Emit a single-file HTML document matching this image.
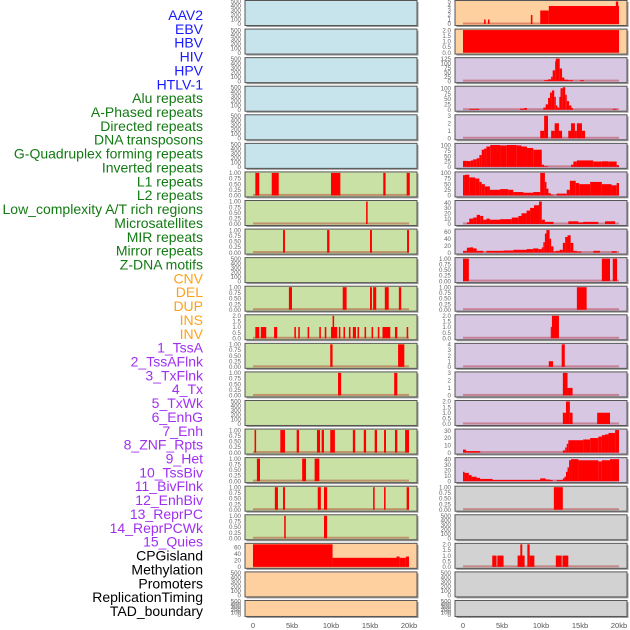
<!DOCTYPE html>
<html><head><meta charset="utf-8">
<style>
html,body{margin:0;padding:0;background:#fff;}
svg{display:block;font-family:"Liberation Sans",sans-serif;}
</style></head>
<body>
<svg id="chart" width="630" height="630" viewBox="0 0 630 630" xmlns="http://www.w3.org/2000/svg">
<g id="labels"></g>
<g id="panels"></g>
<g id="xaxes"></g>
</svg>
<script>
// ---- data ----
const trackLabels = ["AAV2","EBV","HBV","HIV","HPV","HTLV-1","Alu repeats","A-Phased repeats","Directed repeats","DNA transposons","G-Quadruplex forming repeats","Inverted repeats","L1 repeats","L2 repeats","Low_complexity A/T rich regions","Microsatellites","MIR repeats","Mirror repeats","Z-DNA motifs","CNV","DEL","DUP","INS","INV","1_TssA","2_TssAFlnk","3_TxFlnk","4_Tx","5_TxWk","6_EnhG","7_Enh","8_ZNF_Rpts","9_Het","10_TssBiv","11_BivFlnk","12_EnhBiv","13_ReprPC","14_ReprPCWk","15_Quies","CPGisland","Methylation","Promoters","ReplicationTiming","TAD_boundary"];
const labelGroups = [6,13,5,15,5]; // counts per color group
const xTickValues = [0,5,10,15,20];
const xTickLabels = ["0","5kb","10kb","15kb","20kb"];

// segments: [startKb, endKb, value]
const L6 = [[0.3,0.8,1],[2.4,3.3,1],[10,11.2,1],[16.7,17,1],[19.7,20.1,1]];
const L7 = [[14.5,14.7,1]];
const L8 = [[3.85,4.1,1],[9.5,9.8,1],[15,15.25,1],[19.75,20,1]];
const L10 = [[4.6,5,1],[11.5,12,1],[15,15.25,1],[15.4,15.8,1],[16.9,17.4,1],[18.7,19,1]];
const L11 = [[0.3,0.8,1],[1.0,1.7,1],[2.7,3.1,1],[5.3,5.5,1],[5.8,6.0,1],[7.0,7.2,1],[8.5,8.7,1],[9.2,9.4,1],[10.0,10.8,1],[10.2,10.4,2],[11.0,11.2,1],[11.6,11.8,1],[12.3,12.5,1],[12.8,13.2,1],[13.4,13.6,1],[14.3,14.5,1],[15.2,15.4,1],[16.0,16.2,1],[16.6,17.6,1],[18.2,18.5,1],[19.7,19.9,1]];
const L12 = [[9.9,10.2,1],[18.6,19.4,1]];
const L13 = [[10.9,11.3,1],[18.1,18.5,1]];
const L15 = [[0.2,0.4,1],[3.5,4.1,1],[5.6,5.9,1],[8.2,8.6,1],[8.8,9.1,1],[9.9,10.5,1],[12.8,13.1,1],[14.2,14.5,1],[15.6,15.9,1],[16.8,17.05,1],[18.2,18.5,1],[19.5,20,1]];
const L16 = [[0.5,0.9,1],[6.3,6.8,1],[7.9,8.5,1]];
const L17 = [[2.8,3.2,1],[3.85,4.1,1],[8.3,8.7,1],[9.1,9.5,1],[15.4,15.6,1],[16.8,17,1],[19.7,20,1]];
const L18 = [[4,4.2,1],[9.1,9.5,1]];
const L19 = [[0,10.2,70],[10.2,18.4,28],[18.4,18.8,32],[18.8,19.6,28],[19.6,20,32]];

const R0 = [[2.7,2.9,1],[3.2,3.4,1],[8.7,8.9,2],[9.9,11,3],[11,20,4],[19.6,19.9,5]];
const R1 = [[0,20,2]];
const R2 = [[10.4,10.9,5],[10.9,11.3,10],[11.3,11.5,25],[11.5,11.8,60],[11.8,11.9,110],[11.9,12.4,125],[12.4,12.7,70],[12.7,13,20],[13,13.5,8],[13.5,14.1,5],[15,15.5,5]];
const R3 = [[0.8,2.05,4],[7.3,7.85,5],[7.85,8.2,8],[10.3,10.6,10],[10.6,10.9,25],[10.9,11.15,55],[11.15,11.4,80],[11.4,11.7,90],[11.7,11.9,60],[11.9,12.1,20],[12.1,12.35,10],[12.35,12.5,60],[12.5,12.8,100],[12.8,13.1,105],[13.1,13.3,70],[13.3,13.6,40],[13.6,13.9,20],[13.9,14.1,8],[19.2,19.7,4]];
const R4 = [[9.9,10.4,1],[10.4,10.9,3],[11.3,11.75,1],[11.75,12.3,2],[12.3,12.7,1],[13.5,13.85,1],[13.85,14.35,2],[14.35,14.6,1],[14.6,15.25,2],[15.25,15.65,1]];
const R5 = [[0,0.5,28],[0.5,1,27],[1,1.3,30],[1.3,1.75,35],[1.75,2.1,40],[2.1,2.4,55],[2.4,2.7,80],[2.7,3,85],[3,3.5,95],[3.5,4.75,102],[4.75,5.6,100],[5.6,6.9,102],[6.9,7.5,100],[7.5,8.2,95],[8.2,9,88],[9,10.1,80],[10.1,10.4,10],[10.4,10.9,3],[13.85,14.15,10],[14.15,14.6,25],[14.6,16.7,30],[16.7,17.8,25],[17.8,18.6,26],[18.6,19.7,25],[19.7,20,8]];
const R6 = [[0,0.25,90],[0.25,0.8,92],[0.8,1.55,80],[1.55,2.1,75],[2.1,2.4,60],[2.4,2.8,50],[2.8,3.45,40],[3.45,4.75,25],[4.75,5.8,28],[5.8,6.45,25],[6.45,7.75,15],[7.75,9,12],[9,9.9,15],[9.9,10.5,100],[10.5,10.7,60],[10.7,10.95,30],[10.95,11.25,10],[11.25,11.6,3],[12,13.3,8],[13.3,13.7,25],[13.7,14.45,65],[14.45,14.9,55],[14.9,16.3,50],[16.3,17.8,60],[17.8,19.05,50],[19.05,19.7,45],[19.7,20,55]];
const R7 = [[0.5,0.8,3],[0.8,1.3,10],[1.3,1.75,12],[1.75,2.2,17],[2.2,2.6,15],[2.6,3,8],[3,3.45,10],[3.45,4.75,8],[4.75,6.25,9],[6.25,7.1,12],[7.1,7.5,15],[7.5,8.15,20],[8.15,8.6,25],[8.6,9.1,30],[9.1,9.75,35],[9.75,10.1,42],[10.1,10.5,8],[10.5,11.6,4],[13.5,14.8,5],[14.8,15.4,3],[15.4,17.35,4],[18.2,19.5,5]];
const R8 = [[0,0.5,5],[0.5,0.9,14],[0.9,1.3,15],[1.3,1.75,12],[1.75,2.6,5],[3,5.2,5],[5.2,6.45,6],[6.45,8.15,8],[8.15,9,10],[9,9.65,12],[9.65,10.1,10],[10.1,10.3,15],[10.3,10.5,30],[10.5,10.7,55],[10.7,11.1,65],[11.1,11.3,40],[11.3,11.6,18],[11.6,11.9,3],[11.9,12.4,5],[12.4,12.8,8],[12.8,13.1,28],[13.1,13.4,45],[13.4,13.8,50],[13.8,14.15,28],[14.15,14.6,5],[14.6,15.2,3],[16.7,17.55,5],[19.05,19.7,4]];
const R9 = [[0,0.75,1],[17.8,18.85,1],[19.2,19.75,1]];
const R10 = [[14.6,15.85,1]];
const R11 = [[11.25,11.4,1],[11.4,12.3,2]];
const R12 = [[11,11.55,1],[12.65,13.05,4]];
const R13 = [[12.8,13.4,3],[13.4,14.05,1]];
const R14 = [[12.8,13.2,1],[13.2,13.7,2],[13.7,14.05,1],[17.2,18.85,1]];
const R15 = [[0,0.4,4],[0.4,2.2,2],[12.8,13.1,3],[13.1,13.3,7],[13.3,13.5,12],[13.5,15.4,17],[15.4,16.3,18],[16.3,17.35,20],[17.35,17.8,22],[17.8,18.2,24],[18.2,18.65,25],[18.65,19.5,27],[19.5,20,31]];
const R16 = [[0,0.2,17],[0.2,0.75,15],[0.75,1.1,11],[1.1,1.75,8],[1.75,2.2,6],[2.2,3.8,4],[3.8,9.9,2],[9.9,10.6,5],[10.6,11.15,3],[11.15,11.5,2],[12,12.8,2],[12.8,13,5],[13,13.2,8],[13.2,13.4,17],[13.4,13.6,25],[13.6,13.85,38],[13.85,14.8,40],[14.8,17.35,38],[17.35,17.8,36],[17.8,18.85,38],[18.85,20,40]];
const R17 = [[11.65,12.8,1]];
const R19 = [[3.75,4.3,1],[4.4,5.2,1],[7,7.9,1],[7.35,7.6,2],[8.25,8.55,2],[8.55,9.15,1],[11.9,12.65,1],[12.75,13.5,1]];

// tick sets
const T500 = [0,100,200,300,400,500];
const T1 = [0,0.25,0.5,0.75,1];
const T2 = [0,0.5,1,1.5,2];
const leftSeries = [null,null,null,null,null,null,L6,L7,L8,null,L10,L11,L12,L13,null,L15,L16,L17,L18,L19,null,null];
const leftTicks = [T500,T500,T500,T500,T500,T500,T1,T1,T1,T500,T1,T2,T1,T1,T500,T1,T1,T1,T1,[0,20,40,60],T500,T500];
const leftMax = [500,500,500,500,500,500,1,1,1,500,1,2,1,1,500,1,1,1,1,70,500,500];
const rightSeries = [R0,R1,R2,R3,R4,R5,R6,R7,R8,R9,R10,R11,R12,R13,R14,R15,R16,R17,null,R19,null,null];
const rightTicks = [[0,1,2,3,4,5],T2,[0,25,50,75,100,125],[0,25,50,75,100],[0,1,2,3],[0,25,50,75,100],[0,25,50,75,100],[0,10,20,30,40],[0,20,40,60],T1,T1,T2,[0,1,2,3,4],[0,1,2,3],T2,[0,10,20,30],[0,10,20,30,40],T1,T500,T2,T500,T500];
const rightMax = [5,2,125,105,3,105,100,42,65,1,1,2,4,3,2,31,41,1,500,2,500,500];

// ---- rendering ----
const NS = "http://www.w3.org/2000/svg";
function mk(tag, attrs, parent){const e=document.createElementNS(NS,tag);for(const k in attrs)e.setAttribute(k,attrs[k]);parent.appendChild(e);return e;}

// labels
const groupColors = ["#1a1aff","#137a13","#ffa21a","#a030f0","#000000"];
const labG = document.getElementById('labels');
let gi=0, cnt=0;
trackLabels.forEach((t,i)=>{
  while(cnt>=labelGroups[gi]){gi++;cnt=0;}
  cnt++;
  const el = mk('text',{x:203,y:15+i*13.86+5,'text-anchor':'end','font-size':'14',fill:groupColors[gi]},labG);
  el.textContent=t;
  
  
});

function fmt(v, ticks){
  const step = ticks[1]-ticks[0];
  if (step===0.25) return v.toFixed(2);
  if (step===0.5) return v.toFixed(1);
  return String(v);
}

const panG = document.getElementById('panels');
function drawPanel(px, i, series, ticks, ymax, fill){
  const top = i*28.57 + 0.5;
  const h = (i===21)?16:25;
  const W = 172;
  const g = mk('g',{},panG);
  
  
  mk('rect',{x:px+1.5,y:top+1.5,width:W,height:h,fill:'#999'},g);
  mk('rect',{x:px,y:top,width:W,height:h,fill:fill,stroke:'#555','stroke-width':1},g);
  const x0 = px+8, kbW = 7.8;
  const xs = kb => x0 + kb*kbW;
  const yb = top + h - 1.5, ph = h - 2.5;
  const ys = v => yb - v/ymax*ph;
  if (series){
    mk('rect',{x:xs(0),y:yb-1.5,width:xs(20)-xs(0),height:2,fill:'rgba(170,0,0,0.35)'},g);
    series.forEach(s=>{
      const r = mk('rect',{x:xs(s[0]),y:ys(s[2]),width:Math.max(0.8,xs(s[1])-xs(s[0])),height:yb-ys(s[2]),fill:'#ff0000'},g);
      
      
    });
  }
  ticks.forEach(t=>{
    const tx = mk('text',{x:px-4,y:ys(t)+2.2,'text-anchor':'end','font-size':'6.2',fill:'#666'},g);
    tx.textContent = fmt(t,ticks);
    
    
  });
}
for(let i=0;i<22;i++){
  const lf = i<6?'#c7e4ec':(i<19?'#c9e1a5':'#ffd09f');
  const rf = i<2?'#ffd09f':(i<17?'#d7c7e3':'#d2d2d2');
  drawPanel(245,i,leftSeries[i],leftTicks[i],leftMax[i],lf);
  drawPanel(455,i,rightSeries[i],rightTicks[i],rightMax[i],rf);
}
const xa = document.getElementById('xaxes');
[253,463].forEach(x0=>{
  xTickValues.forEach((v,k)=>{
    const t = mk('text',{x:x0+v*7.8,y:628,'text-anchor':'middle','font-size':'7.5',fill:'#555'},xa);
    t.textContent = xTickLabels[k];
    
    
  });
});
</script>
</body></html>
